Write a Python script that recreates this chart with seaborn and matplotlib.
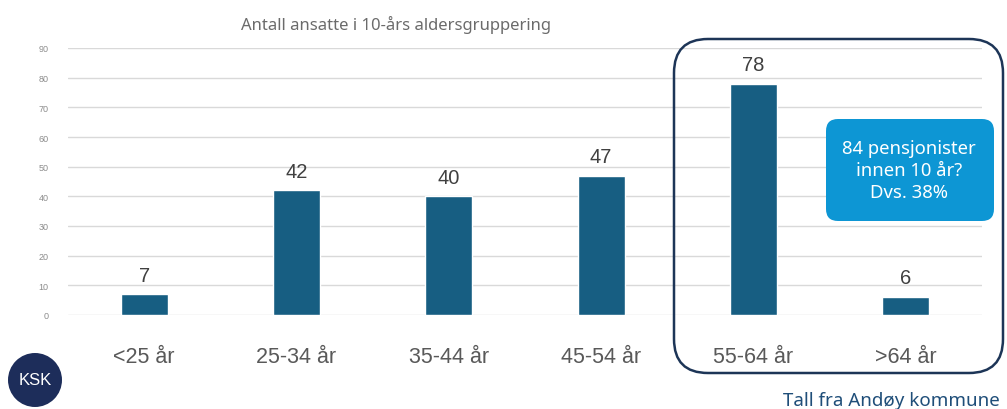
import matplotlib
matplotlib.use("Agg")
import matplotlib.pyplot as plt
import seaborn as sns
import pandas as pd
from matplotlib.patches import FancyBboxPatch, Circle

categories = ["<25 år", "25-34 år", "35-44 år", "45-54 år", "55-64 år", ">64 år"]
counts = [7, 42, 40, 47, 78, 6]
yticks = [0, 10, 20, 30, 40, 50, 60, 70, 80, 90]

title = "Antall ansatte i 10-års aldersgruppering"
callout = "84 pensjonister\ninnen 10 år?\nDvs. 38%"
source = "Tall fra Andøy kommune"

sns.set_theme(style="white")
plt.rcParams["font.family"] = ["Liberation Sans", "DejaVu Sans"]

df = pd.DataFrame({"gruppe": categories, "antall": counts})

fig = plt.figure(figsize=(10.07, 4.10), dpi=100)
fig.patch.set_facecolor("white")
ax = fig.add_axes([68 / 1007, 94 / 410, 914 / 1007, 267 / 410])

sns.barplot(data=df, x="gruppe", y="antall", color="#175e82", width=0.31,
            saturation=1, ax=ax, zorder=3)

ax.set_xlim(-0.5, len(categories) - 0.5)
ax.set_ylim(0, 90)
ax.set_yticks(yticks)
ax.set_yticklabels([str(t) for t in yticks], fontsize=6.5, color="#8c8c8c")
ax.tick_params(axis="y", length=0, pad=14)
ax.tick_params(axis="x", length=0, pad=22, labelsize=15.5, labelcolor="#595959")
ax.set_xlabel("")
ax.set_ylabel("")
ax.yaxis.grid(True, color="#d9d9d9", linewidth=1)
ax.set_axisbelow(True)
for s in ax.spines.values():
    s.set_visible(False)

for cont in ax.containers:
    ax.bar_label(cont, labels=[str(v) for v in counts], padding=7,
                 fontsize=14.5, color="#404040")

fig.text(396 / 1007, 385 / 410, title, ha="center", va="center",
         fontsize=12, color="#6b6b6b", family=["Noto Sans", "DejaVu Sans"])

# highlight frame around the two oldest groups
frame = FancyBboxPatch((674, 36), 329, 334, transform=None,
                       boxstyle="round,pad=0,rounding_size=34",
                       facecolor="none", edgecolor="#1d3557", linewidth=1.8,
                       zorder=5)
fig.patches.append(frame)

# callout box
box = FancyBboxPatch((826, 188), 168, 102, transform=None,
                     boxstyle="round,pad=0,rounding_size=12",
                     facecolor="#0d96d4", edgecolor="none", zorder=6)
fig.patches.append(box)
fig.text(909 / 1007, 239 / 410, callout, ha="center", va="center",
         fontsize=13.3, color="white", linespacing=1.25, zorder=7,
         family=["Noto Sans", "DejaVu Sans"])

fig.text(1000 / 1007, 9 / 410, source, ha="right", va="center",
         fontsize=13.5, color="#1f4e79", family=["Noto Sans", "DejaVu Sans"])

# logo badge
logo = Circle((35, 29), 27, transform=None, facecolor="#1d2d5a",
              edgecolor="none", zorder=6)
fig.patches.append(logo)
fig.text(35 / 1007, 29 / 410, "KSK", ha="center", va="center",
         fontsize=12, color="white", zorder=7)

fig.savefig("out.png", dpi=100, facecolor="white")
